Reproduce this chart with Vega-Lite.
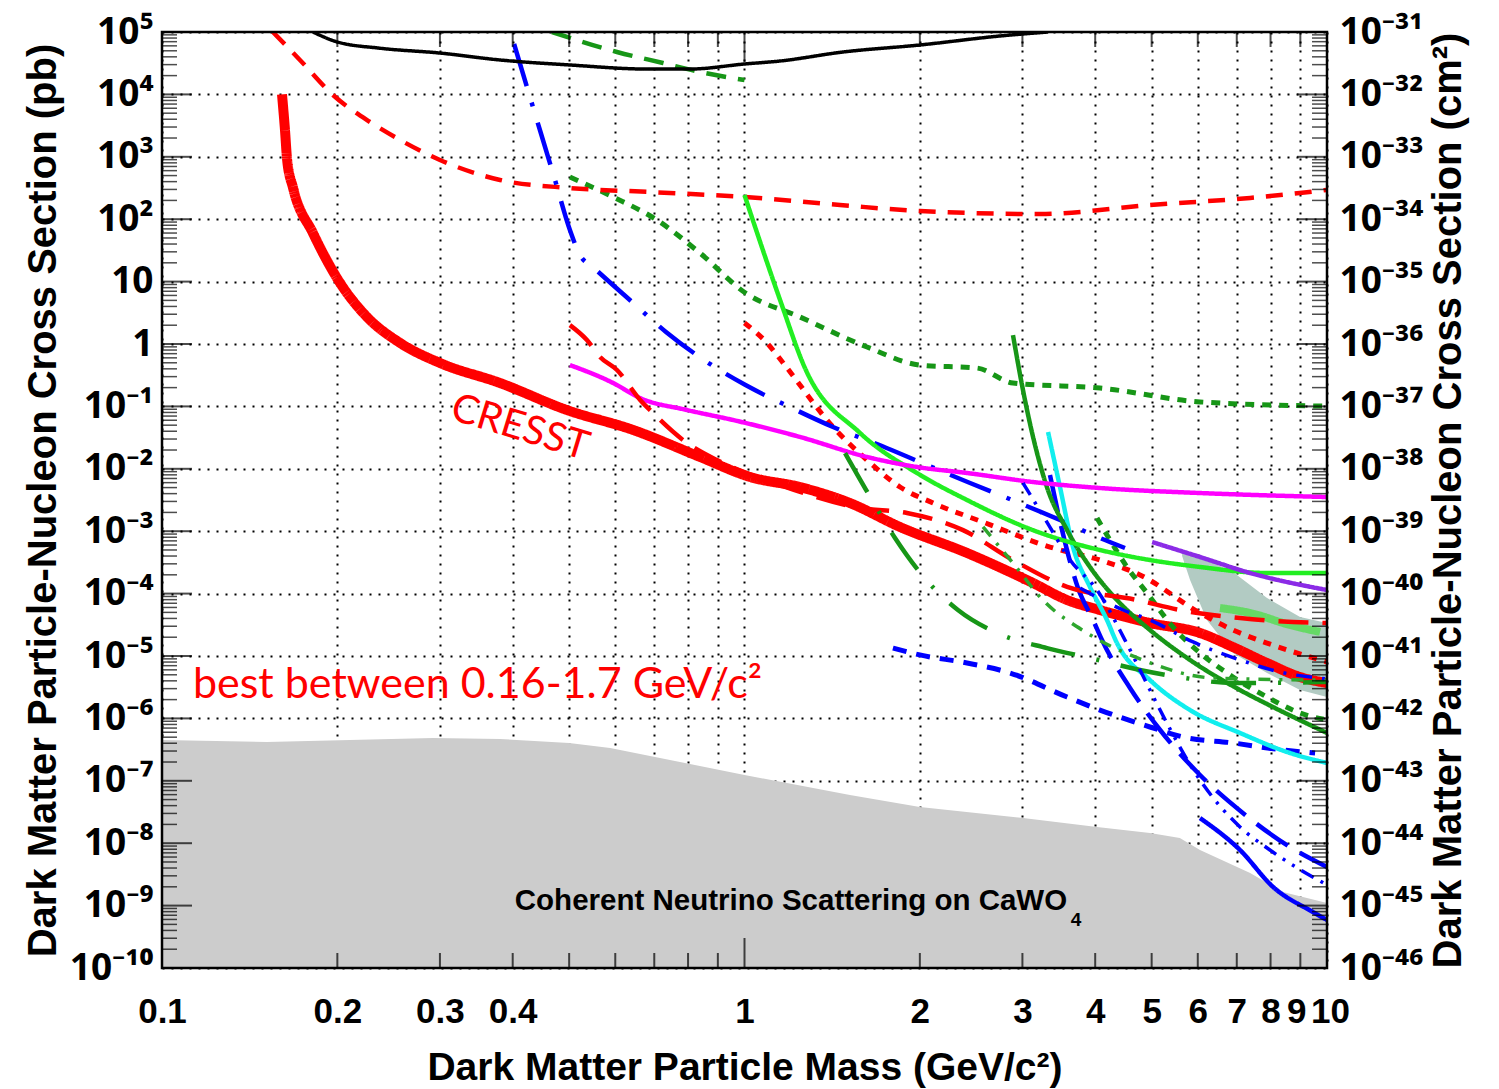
{
  "$schema": "https://vega.github.io/schema/vega-lite/v6.json",
  "width": 1165,
  "height": 936,
  "autosize": {"type": "none"},
  "padding": {"left": 162, "top": 32, "right": 172, "bottom": 121},
  "background": "white",
  "config": {"view": {"stroke": null}, "font": "Liberation Sans"},
  "resolve": {"axis": {"x": "independent", "y": "independent"}},
  "datasets": {
    "floor": [
      {"m": 0.1, "sig": 4.51e-7}, {"m": 0.1514, "sig": 4.19e-7}, {"m": 0.292, "sig": 4.85e-7}, {"m": 0.3805, "sig": 4.68e-7},
      {"m": 0.5, "sig": 4.04e-7}, {"m": 0.588, "sig": 3.36e-7}, {"m": 1.0, "sig": 1.24e-7}, {"m": 1.517, "sig": 5.92e-8},
      {"m": 2.0, "sig": 3.8e-8}, {"m": 3.007, "sig": 2.53e-8}, {"m": 4.029, "sig": 1.82e-8}, {"m": 4.967, "sig": 1.46e-8},
      {"m": 5.59, "sig": 1.21e-8}, {"m": 6.053, "sig": 7.78e-9}, {"m": 7.38, "sig": 3.33e-9}, {"m": 8.4, "sig": 1.65e-9},
      {"m": 10, "sig": 1.1e-9}
    ],
    "band": [
      {"m": 5.64, "hi": 4.48e-4, "lo": 4.01e-4}, {"m": 5.82, "hi": 4.48e-4, "lo": 1.65e-4}, {"m": 6.22, "hi": 3.45e-4, "lo": 3.78e-5},
      {"m": 6.897, "hi": 2.22e-4, "lo": 1.12e-5}, {"m": 7.89, "hi": 8.5e-5, "lo": 5.35e-6}, {"m": 8.99, "hi": 4.22e-5, "lo": 2.85e-6},
      {"m": 10, "hi": 3.38e-5, "lo": 2.2e-6}
    ],
    "curves": [
      {"s": "black", "m": 0.1816, "sig": 1e5}, {"s": "black", "m": 0.2, "sig": 6.92e4}, {"s": "black", "m": 0.2367, "sig": 5.5e4},
      {"s": "black", "m": 0.3, "sig": 4.6e4}, {"s": "black", "m": 0.3805, "sig": 3.56e4}, {"s": "black", "m": 0.5015, "sig": 2.96e4},
      {"s": "black", "m": 0.68, "sig": 2.55e4}, {"s": "black", "m": 0.806, "sig": 2.55e4}, {"s": "black", "m": 1.0, "sig": 3.07e4},
      {"s": "black", "m": 1.151, "sig": 3.43e4}, {"s": "black", "m": 1.476, "sig": 4.78e4}, {"s": "black", "m": 2.0, "sig": 6.19e4},
      {"s": "black", "m": 2.745, "sig": 8.63e4}, {"s": "black", "m": 3.32, "sig": 1e5},

      {"s": "redDash", "m": 0.155, "sig": 1e5}, {"s": "redDash", "m": 0.1725, "sig": 3.56e4}, {"s": "redDash", "m": 0.1966, "sig": 9.77e3},
      {"s": "redDash", "m": 0.2276, "sig": 3.61e3}, {"s": "redDash", "m": 0.2563, "sig": 1.86e3}, {"s": "redDash", "m": 0.3, "sig": 889},
      {"s": "redDash", "m": 0.3805, "sig": 425}, {"s": "redDash", "m": 0.5015, "sig": 316}, {"s": "redDash", "m": 0.688, "sig": 273},
      {"s": "redDash", "m": 1.0, "sig": 227}, {"s": "redDash", "m": 1.459, "sig": 169}, {"s": "redDash", "m": 2.0, "sig": 135},
      {"s": "redDash", "m": 3.22, "sig": 121}, {"s": "redDash", "m": 4.97, "sig": 169}, {"s": "redDash", "m": 7.38, "sig": 219},
      {"s": "redDash", "m": 10, "sig": 294},

      {"s": "cresst", "m": 0.1607, "sig": 1e4}, {"s": "cresst", "m": 0.1626, "sig": 2690}, {"s": "cresst", "m": 0.164, "sig": 889},
      {"s": "cresst", "m": 0.1679, "sig": 316}, {"s": "cresst", "m": 0.1816, "sig": 60.1}, {"s": "cresst", "m": 0.2022, "sig": 9.5},
      {"s": "cresst", "m": 0.2249, "sig": 2.71}, {"s": "cresst", "m": 0.2563, "sig": 1.04}, {"s": "cresst", "m": 0.3, "sig": 0.497},
      {"s": "cresst", "m": 0.3805, "sig": 0.237}, {"s": "cresst", "m": 0.4957, "sig": 0.0875}, {"s": "cresst", "m": 0.644, "sig": 0.0419},
      {"s": "cresst", "m": 0.8386, "sig": 0.0155}, {"s": "cresst", "m": 1.022, "sig": 7.4e-3}, {"s": "cresst", "m": 1.245, "sig": 5.1e-3},
      {"s": "cresst", "m": 1.517, "sig": 2.83e-3}, {"s": "cresst", "m": 1.849, "sig": 1.17e-3}, {"s": "cresst", "m": 2.41, "sig": 4.48e-4},
      {"s": "cresst", "m": 3.128, "sig": 1.48e-4}, {"s": "cresst", "m": 3.58, "sig": 7.89e-5}, {"s": "cresst", "m": 4.076, "sig": 5.46e-5},
      {"s": "cresst", "m": 4.967, "sig": 3.38e-5}, {"s": "cresst", "m": 6.053, "sig": 2.34e-5}, {"s": "cresst", "m": 6.897, "sig": 1.39e-5},
      {"s": "cresst", "m": 7.89, "sig": 7.73e-6}, {"s": "cresst", "m": 8.99, "sig": 4.61e-6}, {"s": "cresst", "m": 10, "sig": 3.69e-6},

      {"s": "b1", "m": 0.4022, "sig": 6.42e4}, {"s": "b1", "m": 0.4232, "sig": 1.31e4}, {"s": "b1", "m": 0.4728, "sig": 425},
      {"s": "b1", "m": 0.5015, "sig": 67.1}, {"s": "b1", "m": 0.5218, "sig": 26.7}, {"s": "b1", "m": 0.5493, "sig": 17.1},
      {"s": "b1", "m": 0.6412, "sig": 4.71}, {"s": "b1", "m": 0.7332, "sig": 1.56}, {"s": "b1", "m": 0.862, "sig": 0.515},
      {"s": "b1", "m": 1.004, "sig": 0.22}, {"s": "b1", "m": 1.206, "sig": 0.0942}, {"s": "b1", "m": 1.419, "sig": 0.0468},
      {"s": "b1", "m": 1.722, "sig": 0.0232}, {"s": "b1", "m": 2.017, "sig": 0.0124}, {"s": "b1", "m": 2.439, "sig": 5.92e-3},
      {"s": "b1", "m": 2.879, "sig": 3.16e-3}, {"s": "b1", "m": 3.48, "sig": 1.51e-3}, {"s": "b1", "m": 4.076, "sig": 7.78e-4},
      {"s": "b1", "m": 4.5, "sig": 5.38e-4},

      {"s": "b2", "m": 3.345, "sig": 7.96e-3}, {"s": "b2", "m": 3.509, "sig": 1.04e-3}, {"s": "b2", "m": 3.737, "sig": 1.23e-4},
      {"s": "b2", "m": 3.966, "sig": 3.78e-5}, {"s": "b2", "m": 4.109, "sig": 1.8e-5}, {"s": "b2", "m": 4.59, "sig": 3.07e-6},
      {"s": "b2", "m": 5.17, "sig": 6.52e-7}, {"s": "b2", "m": 6.053, "sig": 1.24e-7}, {"s": "b2", "m": 7.17, "sig": 3.05e-8},
      {"s": "b2", "m": 8.64, "sig": 8.69e-9}, {"s": "b2", "m": 10, "sig": 4.16e-9},

      {"s": "b4", "m": 3.007, "sig": 5.92e-3}, {"s": "b4", "m": 3.305, "sig": 1.4e-3}, {"s": "b4", "m": 3.622, "sig": 3.45e-4},
      {"s": "b4", "m": 4.029, "sig": 1.14e-4}, {"s": "b4", "m": 4.5, "sig": 1.8e-5}, {"s": "b4", "m": 4.967, "sig": 2.85e-6},
      {"s": "b4", "m": 5.17, "sig": 1.36e-6}, {"s": "b4", "m": 6.053, "sig": 1.03e-7}, {"s": "b4", "m": 7.09, "sig": 1.82e-8},
      {"s": "b4", "m": 7.98, "sig": 7.78e-9}, {"s": "b4", "m": 10, "sig": 2.14e-9},

      {"s": "b5", "m": 3.767, "sig": 1.23e-4}, {"s": "b5", "m": 4.466, "sig": 5.46e-5}, {"s": "b5", "m": 4.967, "sig": 3.78e-5},
      {"s": "b5", "m": 5.89, "sig": 1.68e-5}, {"s": "b5", "m": 7.09, "sig": 8.63e-6}, {"s": "b5", "m": 8.3, "sig": 5.55e-6},
      {"s": "b5", "m": 10, "sig": 4.28e-6},

      {"s": "b6", "m": 1.798, "sig": 1.34e-5}, {"s": "b6", "m": 2.0, "sig": 1.04e-5}, {"s": "b6", "m": 2.41, "sig": 7.73e-6},
      {"s": "b6", "m": 2.856, "sig": 5.35e-6}, {"s": "b6", "m": 3.58, "sig": 2.2e-6}, {"s": "b6", "m": 4.076, "sig": 1.36e-6},
      {"s": "b6", "m": 4.967, "sig": 7.28e-7}, {"s": "b6", "m": 5.66, "sig": 5.04e-7}, {"s": "b6", "m": 6.897, "sig": 4.04e-7},
      {"s": "b6", "m": 8.4, "sig": 3.12e-7}, {"s": "b6", "m": 9.54, "sig": 2.79e-7},

      {"s": "b7", "m": 6.053, "sig": 2.53e-8}, {"s": "b7", "m": 7.09, "sig": 7.78e-9}, {"s": "b7", "m": 8.08, "sig": 1.99e-9},
      {"s": "b7", "m": 9.46, "sig": 7.89e-10}, {"s": "b7", "m": 10, "sig": 5.88e-10},

      {"s": "cyan", "m": 3.32, "sig": 0.0389}, {"s": "cyan", "m": 3.48, "sig": 5.11e-3}, {"s": "cyan", "m": 3.664, "sig": 5.58e-4},
      {"s": "cyan", "m": 3.918, "sig": 1.28e-4}, {"s": "cyan", "m": 4.19, "sig": 3.78e-5}, {"s": "cyan", "m": 4.36, "sig": 1.61e-5},
      {"s": "cyan", "m": 4.967, "sig": 4.12e-6}, {"s": "cyan", "m": 5.82, "sig": 1.36e-6}, {"s": "cyan", "m": 7.09, "sig": 5.84e-7},
      {"s": "cyan", "m": 8.64, "sig": 2.79e-7}, {"s": "cyan", "m": 10, "sig": 1.93e-7},

      {"s": "dkgreen", "m": 2.89, "sig": 1.39}, {"s": "dkgreen", "m": 3.03, "sig": 0.127}, {"s": "dkgreen", "m": 3.305, "sig": 5.11e-3},
      {"s": "dkgreen", "m": 3.58, "sig": 1.04e-3}, {"s": "dkgreen", "m": 3.918, "sig": 2.67e-4}, {"s": "dkgreen", "m": 4.36, "sig": 7.89e-5},
      {"s": "dkgreen", "m": 4.967, "sig": 2.61e-5}, {"s": "dkgreen", "m": 5.82, "sig": 8.63e-6}, {"s": "dkgreen", "m": 7.09, "sig": 2.85e-6},
      {"s": "dkgreen", "m": 8.08, "sig": 1.52e-6}, {"s": "dkgreen", "m": 10, "sig": 5.84e-7},

      {"s": "lime", "m": 1.0, "sig": 244}, {"s": "lime", "m": 1.151, "sig": 5.07}, {"s": "lime", "m": 1.27, "sig": 0.412},
      {"s": "lime", "m": 1.579, "sig": 0.0375}, {"s": "lime", "m": 1.977, "sig": 8.57e-3}, {"s": "lime", "m": 2.41, "sig": 3.16e-3},
      {"s": "lime", "m": 3.128, "sig": 1.04e-3}, {"s": "lime", "m": 4.076, "sig": 5.0e-4}, {"s": "lime", "m": 4.645, "sig": 3.86e-4},
      {"s": "lime", "m": 6.053, "sig": 2.67e-4}, {"s": "lime", "m": 7.89, "sig": 2.14e-4}, {"s": "lime", "m": 10, "sig": 2.14e-4},

      {"s": "purple", "m": 5.01, "sig": 6.71e-4}, {"s": "purple", "m": 6.053, "sig": 3.86e-4}, {"s": "purple", "m": 7.38, "sig": 2.14e-4},
      {"s": "purple", "m": 10, "sig": 1.14e-4},

      {"s": "magenta", "m": 0.5015, "sig": 0.46}, {"s": "magenta", "m": 0.595, "sig": 0.237}, {"s": "magenta", "m": 0.662, "sig": 0.136},
      {"s": "magenta", "m": 0.797, "sig": 0.0875}, {"s": "magenta", "m": 0.956, "sig": 0.0605}, {"s": "magenta", "m": 1.245, "sig": 0.0324},
      {"s": "magenta", "m": 1.623, "sig": 0.0155}, {"s": "magenta", "m": 1.977, "sig": 0.0107}, {"s": "magenta", "m": 2.41, "sig": 8.57e-3},
      {"s": "magenta", "m": 3.128, "sig": 6.14e-3}, {"s": "magenta", "m": 4.076, "sig": 4.92e-3}, {"s": "magenta", "m": 6.053, "sig": 4.09e-3},
      {"s": "magenta", "m": 10, "sig": 3.53e-3},

      {"s": "redLong", "m": 0.5015, "sig": 2.01}, {"s": "redLong", "m": 0.5364, "sig": 1.16}, {"s": "redLong", "m": 0.5649, "sig": 0.619},
      {"s": "redLong", "m": 0.604, "sig": 0.383}, {"s": "redLong", "m": 0.662, "sig": 0.127}, {"s": "redLong", "m": 0.6965, "sig": 0.0784},
      {"s": "redLong", "m": 0.784, "sig": 0.029}, {"s": "redLong", "m": 0.897, "sig": 0.0138}, {"s": "redLong", "m": 1.151, "sig": 5.5e-3},
      {"s": "redLong", "m": 1.579, "sig": 2.36e-3}, {"s": "redLong", "m": 1.901, "sig": 1.96e-3}, {"s": "redLong", "m": 2.372, "sig": 1.04e-3},
      {"s": "redLong", "m": 2.89, "sig": 3.45e-4}, {"s": "redLong", "m": 3.58, "sig": 1.28e-4}, {"s": "redLong", "m": 4.72, "sig": 7.89e-5},
      {"s": "redLong", "m": 5.59, "sig": 5.46e-5}, {"s": "redLong", "m": 7.09, "sig": 4.06e-5}, {"s": "redLong", "m": 8.74, "sig": 3.51e-5},
      {"s": "redLong", "m": 10, "sig": 3.38e-5},

      {"s": "redDot", "m": 1.0, "sig": 2.17}, {"s": "redDot", "m": 1.093, "sig": 1.04}, {"s": "redDot", "m": 1.165, "sig": 0.497},
      {"s": "redDot", "m": 1.419, "sig": 0.0468}, {"s": "redDot", "m": 1.623, "sig": 0.0138}, {"s": "redDot", "m": 1.849, "sig": 5.11e-3},
      {"s": "redDot", "m": 2.107, "sig": 2.83e-3}, {"s": "redDot", "m": 2.567, "sig": 1.4e-3}, {"s": "redDot", "m": 3.345, "sig": 5.58e-4},
      {"s": "redDot", "m": 4.076, "sig": 3.45e-4}, {"s": "redDot", "m": 4.775, "sig": 1.99e-4}, {"s": "redDot", "m": 6.053, "sig": 4.89e-5},
      {"s": "redDot", "m": 6.897, "sig": 2.61e-5}, {"s": "redDot", "m": 7.89, "sig": 1.61e-5}, {"s": "redDot", "m": 10, "sig": 8.02e-6},

      {"s": "gDot", "m": 0.5015, "sig": 474}, {"s": "gDot", "m": 0.595, "sig": 227}, {"s": "gDot", "m": 0.7075, "sig": 97},
      {"s": "gDot", "m": 0.8386, "sig": 28.7}, {"s": "gDot", "m": 1.004, "sig": 6.56}, {"s": "gDot", "m": 1.245, "sig": 2.71},
      {"s": "gDot", "m": 1.623, "sig": 0.895}, {"s": "gDot", "m": 2.0, "sig": 0.46}, {"s": "gDot", "m": 2.506, "sig": 0.412},
      {"s": "gDot", "m": 2.89, "sig": 0.237}, {"s": "gDot", "m": 4.076, "sig": 0.197}, {"s": "gDot", "m": 6.053, "sig": 0.118},
      {"s": "gDot", "m": 10, "sig": 0.101},

      {"s": "gDash", "m": 0.467, "sig": 1e5}, {"s": "gDash", "m": 0.604, "sig": 4.78e4}, {"s": "gDash", "m": 0.7245, "sig": 3.18e4},
      {"s": "gDash", "m": 0.8386, "sig": 2.29e4}, {"s": "gDash", "m": 1.0, "sig": 1.7e4},

      {"s": "gLong", "m": 1.488, "sig": 0.0179}, {"s": "gLong", "m": 1.629, "sig": 4.09e-3}, {"s": "gLong", "m": 1.813, "sig": 7.78e-4},
      {"s": "gLong", "m": 2.017, "sig": 1.99e-4}, {"s": "gLong", "m": 2.325, "sig": 5.46e-5}, {"s": "gLong", "m": 2.714, "sig": 2.34e-5},
      {"s": "gLong", "m": 3.305, "sig": 1.34e-5}, {"s": "gLong", "m": 3.918, "sig": 9.29e-6}, {"s": "gLong", "m": 4.775, "sig": 5.97e-6},
      {"s": "gLong", "m": 5.705, "sig": 4.44e-6}, {"s": "gLong", "m": 6.897, "sig": 3.69e-6}, {"s": "gLong", "m": 10, "sig": 3.83e-6},

      {"s": "gDD", "m": 2.567, "sig": 1.17e-3}, {"s": "gDD", "m": 2.89, "sig": 3.09e-4}, {"s": "gDD", "m": 3.253, "sig": 7.89e-5},
      {"s": "gDD", "m": 3.872, "sig": 2.34e-5}, {"s": "gDD", "m": 4.83, "sig": 8.63e-6}, {"s": "gDD", "m": 6.37, "sig": 4.44e-6},
      {"s": "gDD", "m": 10, "sig": 4.1e-6},

      {"s": "gDot2", "m": 4.029, "sig": 1.63e-3}, {"s": "gDot2", "m": 4.24, "sig": 7.23e-4}, {"s": "gDot2", "m": 4.536, "sig": 2.67e-4},
      {"s": "gDot2", "m": 4.91, "sig": 1.02e-4}, {"s": "gDot2", "m": 5.44, "sig": 2.92e-5}, {"s": "gDot2", "m": 6.053, "sig": 1.12e-5},
      {"s": "gDot2", "m": 6.897, "sig": 4.61e-6}, {"s": "gDot2", "m": 7.89, "sig": 2.2e-6}, {"s": "gDot2", "m": 8.99, "sig": 1.22e-6},
      {"s": "gDot2", "m": 10, "sig": 9.42e-7},

      {"s": "ltgreen", "m": 6.55, "sig": 5.88e-5}, {"s": "ltgreen", "m": 7.38, "sig": 4.89e-5}, {"s": "ltgreen", "m": 8.64, "sig": 3.14e-5},
      {"s": "ltgreen", "m": 9.73, "sig": 2.43e-5}
    ],
    "ymaj": [{"v": 1e-10}, {"v": 1e-9}, {"v": 1e-8}, {"v": 1e-7}, {"v": 1e-6}, {"v": 1e-5}, {"v": 1e-4}, {"v": 1e-3},
             {"v": 0.01}, {"v": 0.1}, {"v": 1}, {"v": 10}, {"v": 100}, {"v": 1000}, {"v": 1e4}, {"v": 1e5}],
    "ymin": [
      {"v": 2e-10}, {"v": 3e-10}, {"v": 4e-10}, {"v": 5e-10}, {"v": 6e-10}, {"v": 7e-10}, {"v": 8e-10}, {"v": 9e-10},
      {"v": 2e-9}, {"v": 3e-9}, {"v": 4e-9}, {"v": 5e-9}, {"v": 6e-9}, {"v": 7e-9}, {"v": 8e-9}, {"v": 9e-9},
      {"v": 2e-8}, {"v": 3e-8}, {"v": 4e-8}, {"v": 5e-8}, {"v": 6e-8}, {"v": 7e-8}, {"v": 8e-8}, {"v": 9e-8},
      {"v": 2e-7}, {"v": 3e-7}, {"v": 4e-7}, {"v": 5e-7}, {"v": 6e-7}, {"v": 7e-7}, {"v": 8e-7}, {"v": 9e-7},
      {"v": 2e-6}, {"v": 3e-6}, {"v": 4e-6}, {"v": 5e-6}, {"v": 6e-6}, {"v": 7e-6}, {"v": 8e-6}, {"v": 9e-6},
      {"v": 2e-5}, {"v": 3e-5}, {"v": 4e-5}, {"v": 5e-5}, {"v": 6e-5}, {"v": 7e-5}, {"v": 8e-5}, {"v": 9e-5},
      {"v": 2e-4}, {"v": 3e-4}, {"v": 4e-4}, {"v": 5e-4}, {"v": 6e-4}, {"v": 7e-4}, {"v": 8e-4}, {"v": 9e-4},
      {"v": 2e-3}, {"v": 3e-3}, {"v": 4e-3}, {"v": 5e-3}, {"v": 6e-3}, {"v": 7e-3}, {"v": 8e-3}, {"v": 9e-3},
      {"v": 0.02}, {"v": 0.03}, {"v": 0.04}, {"v": 0.05}, {"v": 0.06}, {"v": 0.07}, {"v": 0.08}, {"v": 0.09},
      {"v": 0.2}, {"v": 0.3}, {"v": 0.4}, {"v": 0.5}, {"v": 0.6}, {"v": 0.7}, {"v": 0.8}, {"v": 0.9},
      {"v": 2}, {"v": 3}, {"v": 4}, {"v": 5}, {"v": 6}, {"v": 7}, {"v": 8}, {"v": 9},
      {"v": 20}, {"v": 30}, {"v": 40}, {"v": 50}, {"v": 60}, {"v": 70}, {"v": 80}, {"v": 90},
      {"v": 200}, {"v": 300}, {"v": 400}, {"v": 500}, {"v": 600}, {"v": 700}, {"v": 800}, {"v": 900},
      {"v": 2000}, {"v": 3000}, {"v": 4000}, {"v": 5000}, {"v": 6000}, {"v": 7000}, {"v": 8000}, {"v": 9000},
      {"v": 2e4}, {"v": 3e4}, {"v": 4e4}, {"v": 5e4}, {"v": 6e4}, {"v": 7e4}, {"v": 8e4}, {"v": 9e4}
    ],
    "xmin": [{"v": 0.2}, {"v": 0.3}, {"v": 0.4}, {"v": 0.5}, {"v": 0.6}, {"v": 0.7}, {"v": 0.8}, {"v": 0.9},
             {"v": 2}, {"v": 3}, {"v": 4}, {"v": 5}, {"v": 6}, {"v": 7}, {"v": 8}, {"v": 9}],
    "xmaj": [{"v": 1}]
  },
  "layer": [
    {
      "data": {"name": "floor"},
      "mark": {"type": "area", "color": "#cccccc", "clip": true},
      "encoding": {
        "x": {
          "field": "m", "type": "quantitative",
          "scale": {"type": "log", "domain": [0.1, 10], "nice": false},
          "axis": {
            "orient": "bottom",
            "values": [0.1, 0.2, 0.3, 0.4, 0.5, 0.6, 0.7, 0.8, 0.9, 1, 2, 3, 4, 5, 6, 7, 8, 9, 10],
            "ticks": false, "domain": false, "labels": true,
            "grid": true, "gridColor": "#000000", "gridDash": [2, 7], "gridWidth": 2, "gridOpacity": 1,
            "labelExpr": "(datum.value > 0.45 && datum.value < 0.95) ? '' : (datum.value < 1 ? format(datum.value, '.1f') : format(datum.value, 'd'))",
            "labelFont": "Liberation Sans", "labelFontSize": 35, "labelFontWeight": "bold", "labelColor": "#000000",
            "labelOffset": {"condition": [{"test": "datum.value == 9", "value": -4}, {"test": "datum.value == 10", "value": 3}], "value": 0},
            "labelPadding": 26, "labelOverlap": false, "labelFlush": false, "labelBound": false,
            "title": "Dark Matter Particle Mass (GeV/c²)",
            "titleFont": "Liberation Sans", "titleFontSize": 39, "titleFontWeight": "bold", "titleColor": "#000000", "titlePadding": 19
          }
        },
        "y": {
          "field": "sig", "type": "quantitative",
          "scale": {"type": "log", "domain": [1e-10, 1e5], "nice": false},
          "axis": {
            "orient": "left",
            "values": [1e-10, 1e-9, 1e-8, 1e-7, 1e-6, 1e-5, 1e-4, 1e-3, 0.01, 0.1, 1, 10, 100, 1000, 1e4, 1e5],
            "ticks": false, "domain": false,
            "grid": true, "gridColor": "#000000", "gridDash": [2, 7], "gridWidth": 2, "gridOpacity": 1,
            "labelExpr": "['10⁻¹⁰','10⁻⁹','10⁻⁸','10⁻⁷','10⁻⁶','10⁻⁵','10⁻⁴','10⁻³','10⁻²','10⁻¹','1','10','10²','10³','10⁴','10⁵'][round(log(datum.value)/LN10)+10]",
            "labelFont": "Noto Sans", "labelFontSize": 37, "labelFontWeight": "bold", "labelColor": "#000000",
            "labelPadding": 9, "labelOverlap": false, "labelFlush": false, "labelBound": false,
            "title": "Dark Matter Particle-Nucleon Cross Section (pb)",
            "titleFont": "Liberation Sans", "titleFontSize": 40, "titleFontWeight": "bold", "titleColor": "#000000", "titlePadding": 6
          }
        },
        "y2": {"datum": 1e-10}
      }
    },
    {
      "data": {"name": "band"},
      "mark": {"type": "area", "color": "#b2cbc3", "clip": true},
      "encoding": {
        "x": {"field": "m", "type": "quantitative", "axis": null},
        "y": {"field": "hi", "type": "quantitative", "axis": null},
        "y2": {"field": "lo"}
      }
    },
    {
      "data": {"name": "curves"},
      "transform": [{"filter": {"field": "s", "oneOf": ["ltgreen"]}}],
      "mark": {"type": "line", "strokeWidth": 8, "clip": true, "interpolate": "monotone"},
      "encoding": {
        "x": {"field": "m", "type": "quantitative", "axis": null},
        "y": {"field": "sig", "type": "quantitative", "axis": null},
        "color": {"field": "s", "type": "nominal", "legend": null,
          "scale": {"domain": ["black","redDash","cresst","b1","b2","b4","b5","b6","b7","cyan","dkgreen","lime","purple","magenta","redLong","redDot","gDot","gDash","gLong","gDD","gDot2","ltgreen"],
                    "range": ["#000000","#ff0000","#ff0000","#0000ff","#0000ff","#0000ff","#0000ff","#0000ff","#0000ff","#11eeee","#179617","#22ee22","#8b2be6","#ff00ff","#ff0000","#ff0000","#179617","#179617","#179617","#2ea62e","#179617","#66d966"]}},
        "strokeDash": {"field": "s", "type": "nominal", "legend": null,
          "scale": {"domain": ["black","redDash","cresst","b1","b2","b4","b5","b6","b7","cyan","dkgreen","lime","purple","magenta","redLong","redDot","gDot","gDash","gLong","gDD","gDot2","ltgreen"],
                    "range": [[1,0],[17,12],[1,0],[44,17,4,17],[38,14],[14,8,3,8,3,8],[16,10,3,10],[14,10],[1,0],[1,0],[1,0],[1,0],[1,0],[1,0],[30,14],[8,8],[9,8],[20,12],[45,22,3,22],[12,9,3,9],[8,8],[1,0]]}}
      }
    },
    {
      "data": {"name": "curves"},
      "transform": [{"filter": {"field": "s", "oneOf": ["cresst"]}}],
      "mark": {"type": "line", "strokeWidth": 10, "clip": true, "interpolate": "monotone"},
      "encoding": {
        "x": {"field": "m", "type": "quantitative", "axis": null},
        "y": {"field": "sig", "type": "quantitative", "axis": null},
        "color": {"field": "s", "type": "nominal", "legend": null,
          "scale": {"domain": ["black","redDash","cresst","b1","b2","b4","b5","b6","b7","cyan","dkgreen","lime","purple","magenta","redLong","redDot","gDot","gDash","gLong","gDD","gDot2","ltgreen"],
                    "range": ["#000000","#ff0000","#ff0000","#0000ff","#0000ff","#0000ff","#0000ff","#0000ff","#0000ff","#11eeee","#179617","#22ee22","#8b2be6","#ff00ff","#ff0000","#ff0000","#179617","#179617","#179617","#2ea62e","#179617","#66d966"]}},
        "strokeDash": {"field": "s", "type": "nominal", "legend": null,
          "scale": {"domain": ["black","redDash","cresst","b1","b2","b4","b5","b6","b7","cyan","dkgreen","lime","purple","magenta","redLong","redDot","gDot","gDash","gLong","gDD","gDot2","ltgreen"],
                    "range": [[1,0],[17,12],[1,0],[44,17,4,17],[38,14],[14,8,3,8,3,8],[16,10,3,10],[14,10],[1,0],[1,0],[1,0],[1,0],[1,0],[1,0],[30,14],[8,8],[9,8],[20,12],[45,22,3,22],[12,9,3,9],[8,8],[1,0]]}}
      }
    },
    {
      "data": {"name": "curves"},
      "transform": [{"filter": {"field": "s", "oneOf": ["redDot", "gDot", "gDot2", "b6"]}}],
      "mark": {"type": "line", "strokeWidth": 5, "clip": true, "interpolate": "monotone"},
      "encoding": {
        "x": {"field": "m", "type": "quantitative", "axis": null},
        "y": {"field": "sig", "type": "quantitative", "axis": null},
        "color": {"field": "s", "type": "nominal", "legend": null,
          "scale": {"domain": ["black","redDash","cresst","b1","b2","b4","b5","b6","b7","cyan","dkgreen","lime","purple","magenta","redLong","redDot","gDot","gDash","gLong","gDD","gDot2","ltgreen"],
                    "range": ["#000000","#ff0000","#ff0000","#0000ff","#0000ff","#0000ff","#0000ff","#0000ff","#0000ff","#11eeee","#179617","#22ee22","#8b2be6","#ff00ff","#ff0000","#ff0000","#179617","#179617","#179617","#2ea62e","#179617","#66d966"]}},
        "strokeDash": {"field": "s", "type": "nominal", "legend": null,
          "scale": {"domain": ["black","redDash","cresst","b1","b2","b4","b5","b6","b7","cyan","dkgreen","lime","purple","magenta","redLong","redDot","gDot","gDash","gLong","gDD","gDot2","ltgreen"],
                    "range": [[1,0],[17,12],[1,0],[44,17,4,17],[38,14],[14,8,3,8,3,8],[16,10,3,10],[14,10],[1,0],[1,0],[1,0],[1,0],[1,0],[1,0],[30,14],[8,8],[9,8],[20,12],[45,22,3,22],[12,9,3,9],[8,8],[1,0]]}}
      }
    },
    {
      "data": {"name": "curves"},
      "transform": [{"filter": {"field": "s", "oneOf": ["redDash", "b1", "b2", "b7", "cyan", "dkgreen", "lime", "purple", "magenta", "redLong", "gDash", "gLong"]}}],
      "mark": {"type": "line", "strokeWidth": 4.5, "clip": true, "interpolate": "monotone"},
      "encoding": {
        "x": {"field": "m", "type": "quantitative", "axis": null},
        "y": {"field": "sig", "type": "quantitative", "axis": null},
        "color": {"field": "s", "type": "nominal", "legend": null,
          "scale": {"domain": ["black","redDash","cresst","b1","b2","b4","b5","b6","b7","cyan","dkgreen","lime","purple","magenta","redLong","redDot","gDot","gDash","gLong","gDD","gDot2","ltgreen"],
                    "range": ["#000000","#ff0000","#ff0000","#0000ff","#0000ff","#0000ff","#0000ff","#0000ff","#0000ff","#11eeee","#179617","#22ee22","#8b2be6","#ff00ff","#ff0000","#ff0000","#179617","#179617","#179617","#2ea62e","#179617","#66d966"]}},
        "strokeDash": {"field": "s", "type": "nominal", "legend": null,
          "scale": {"domain": ["black","redDash","cresst","b1","b2","b4","b5","b6","b7","cyan","dkgreen","lime","purple","magenta","redLong","redDot","gDot","gDash","gLong","gDD","gDot2","ltgreen"],
                    "range": [[1,0],[17,12],[1,0],[44,17,4,17],[38,14],[14,8,3,8,3,8],[16,10,3,10],[14,10],[1,0],[1,0],[1,0],[1,0],[1,0],[1,0],[30,14],[8,8],[9,8],[20,12],[45,22,3,22],[12,9,3,9],[8,8],[1,0]]}}
      }
    },
    {
      "data": {"name": "curves"},
      "transform": [{"filter": {"field": "s", "oneOf": ["black", "b4", "b5", "gDD"]}}],
      "mark": {"type": "line", "strokeWidth": 3.5, "clip": true, "interpolate": "monotone"},
      "encoding": {
        "x": {"field": "m", "type": "quantitative", "axis": null},
        "y": {"field": "sig", "type": "quantitative", "axis": null},
        "color": {"field": "s", "type": "nominal", "legend": null,
          "scale": {"domain": ["black","redDash","cresst","b1","b2","b4","b5","b6","b7","cyan","dkgreen","lime","purple","magenta","redLong","redDot","gDot","gDash","gLong","gDD","gDot2","ltgreen"],
                    "range": ["#000000","#ff0000","#ff0000","#0000ff","#0000ff","#0000ff","#0000ff","#0000ff","#0000ff","#11eeee","#179617","#22ee22","#8b2be6","#ff00ff","#ff0000","#ff0000","#179617","#179617","#179617","#2ea62e","#179617","#66d966"]}},
        "strokeDash": {"field": "s", "type": "nominal", "legend": null,
          "scale": {"domain": ["black","redDash","cresst","b1","b2","b4","b5","b6","b7","cyan","dkgreen","lime","purple","magenta","redLong","redDot","gDot","gDash","gLong","gDD","gDot2","ltgreen"],
                    "range": [[1,0],[17,12],[1,0],[44,17,4,17],[38,14],[14,8,3,8,3,8],[16,10,3,10],[14,10],[1,0],[1,0],[1,0],[1,0],[1,0],[1,0],[30,14],[8,8],[9,8],[20,12],[45,22,3,22],[12,9,3,9],[8,8],[1,0]]}}
      }
    },
    {
      "data": {"values": [{"t": "CRESST", "m": 0.4117, "sig": 0.0451}]},
      "mark": {"type": "text", "color": "#ff0000", "font": "Lato", "fontSize": 40, "angle": 17, "align": "center", "baseline": "middle"},
      "encoding": {
        "x": {"field": "m", "type": "quantitative", "axis": null},
        "y": {"field": "sig", "type": "quantitative", "axis": null},
        "text": {"field": "t"}
      }
    },
    {
      "data": {"values": [{"t": "best between 0.16-1.7 GeV/c²", "m": 0.113, "sig": 2.12e-6}]},
      "mark": {"type": "text", "color": "#ff0000", "font": "Lato", "fontSize": 43, "align": "left", "baseline": "alphabetic"},
      "encoding": {
        "x": {"field": "m", "type": "quantitative", "axis": null},
        "y": {"field": "sig", "type": "quantitative", "axis": null},
        "text": {"field": "t"}
      }
    },
    {
      "data": {"values": [{"t": "Coherent Neutrino Scattering on CaWO", "m": 3.58, "sig": 8.5e-10}]},
      "mark": {"type": "text", "color": "#000000", "font": "Liberation Sans", "fontWeight": "bold", "fontSize": 29.5, "align": "right", "baseline": "alphabetic"},
      "encoding": {
        "x": {"field": "m", "type": "quantitative", "axis": null},
        "y": {"field": "sig", "type": "quantitative", "axis": null},
        "text": {"field": "t"}
      }
    },
    {
      "data": {"values": [{"t": "4", "m": 3.63, "sig": 4.71e-10}]},
      "mark": {"type": "text", "color": "#000000", "font": "Liberation Sans", "fontWeight": "bold", "fontSize": 19, "align": "left", "baseline": "alphabetic"},
      "encoding": {
        "x": {"field": "m", "type": "quantitative", "axis": null},
        "y": {"field": "sig", "type": "quantitative", "axis": null},
        "text": {"field": "t"}
      }
    },
    {
      "data": {"values": [{}]},
      "mark": {"type": "rect", "fill": "transparent", "stroke": "#000000", "strokeWidth": 2.5},
      "encoding": {
        "x": {"datum": 0.1, "type": "quantitative", "axis": null},
        "x2": {"datum": 10},
        "y": {"datum": 1e-10, "type": "quantitative", "axis": null},
        "y2": {"datum": 1e5}
      }
    },
    {
      "data": {"name": "ymaj"},
      "mark": {"type": "tick", "orient": "horizontal", "size": 30, "thickness": 2, "color": "#000000", "xOffset": 15},
      "encoding": {
        "x": {"datum": 0.1, "type": "quantitative", "axis": null},
        "y": {"field": "v", "type": "quantitative", "axis": null}
      }
    },
    {
      "data": {"name": "ymin"},
      "mark": {"type": "tick", "orient": "horizontal", "size": 15, "thickness": 1.5, "color": "#000000", "xOffset": 7.5},
      "encoding": {
        "x": {"datum": 0.1, "type": "quantitative", "axis": null},
        "y": {"field": "v", "type": "quantitative", "axis": null}
      }
    },
    {
      "data": {"name": "ymaj"},
      "mark": {"type": "tick", "orient": "horizontal", "size": 30, "thickness": 2, "color": "#000000", "xOffset": -15},
      "encoding": {
        "x": {"datum": 10, "type": "quantitative", "axis": null},
        "y": {
          "field": "v", "type": "quantitative",
          "axis": {
            "orient": "right",
            "values": [1e-10, 1e-9, 1e-8, 1e-7, 1e-6, 1e-5, 1e-4, 1e-3, 0.01, 0.1, 1, 10, 100, 1000, 1e4, 1e5],
            "ticks": false, "domain": false, "grid": false,
            "labelExpr": "['10⁻⁴⁶','10⁻⁴⁵','10⁻⁴⁴','10⁻⁴³','10⁻⁴²','10⁻⁴¹','10⁻⁴⁰','10⁻³⁹','10⁻³⁸','10⁻³⁷','10⁻³⁶','10⁻³⁵','10⁻³⁴','10⁻³³','10⁻³²','10⁻³¹'][round(log(datum.value)/LN10)+10]",
            "labelFont": "Noto Sans", "labelFontSize": 37, "labelFontWeight": "bold", "labelColor": "#000000",
            "labelPadding": 12, "labelOverlap": false, "labelFlush": false, "labelBound": false,
            "title": "Dark Matter Particle-Nucleon Cross Section (cm²)",
            "titleFont": "Liberation Sans", "titleFontSize": 40, "titleFontWeight": "bold", "titleColor": "#000000",
            "titleAngle": -90, "titleBaseline": "top", "titlePadding": 6
          }
        }
      }
    },
    {
      "data": {"name": "ymin"},
      "mark": {"type": "tick", "orient": "horizontal", "size": 15, "thickness": 1.5, "color": "#000000", "xOffset": -7.5},
      "encoding": {
        "x": {"datum": 10, "type": "quantitative", "axis": null},
        "y": {"field": "v", "type": "quantitative", "axis": null}
      }
    },
    {
      "data": {"name": "xmin"},
      "mark": {"type": "tick", "orient": "vertical", "size": 15, "thickness": 2, "color": "#000000", "yOffset": -7.5},
      "encoding": {
        "x": {"field": "v", "type": "quantitative", "axis": null},
        "y": {"datum": 1e-10, "type": "quantitative", "axis": null}
      }
    },
    {
      "data": {"name": "xmin"},
      "mark": {"type": "tick", "orient": "vertical", "size": 15, "thickness": 2, "color": "#000000", "yOffset": 7.5},
      "encoding": {
        "x": {"field": "v", "type": "quantitative", "axis": null},
        "y": {"datum": 1e5, "type": "quantitative", "axis": null}
      }
    },
    {
      "data": {"name": "xmaj"},
      "mark": {"type": "tick", "orient": "vertical", "size": 30, "thickness": 2, "color": "#000000", "yOffset": -15},
      "encoding": {
        "x": {"field": "v", "type": "quantitative", "axis": null},
        "y": {"datum": 1e-10, "type": "quantitative", "axis": null}
      }
    },
    {
      "data": {"name": "xmaj"},
      "mark": {"type": "tick", "orient": "vertical", "size": 30, "thickness": 2, "color": "#000000", "yOffset": 15},
      "encoding": {
        "x": {"field": "v", "type": "quantitative", "axis": null},
        "y": {"datum": 1e5, "type": "quantitative", "axis": null}
      }
    }
  ]
}
